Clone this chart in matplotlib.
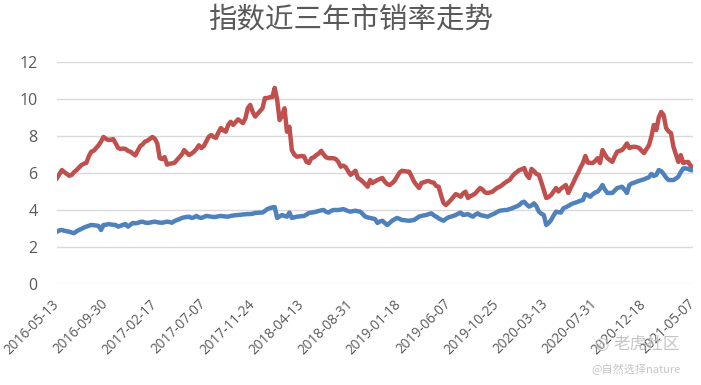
import matplotlib
matplotlib.use("Agg")
import matplotlib.pyplot as plt
import pandas as pd

plt.rcParams['font.family'] = ['Open Sans', 'Noto Sans CJK SC', 'DejaVu Sans']

title = "指数近三年市销率走势"
start_date = "2016-05-13"
n_weeks = 261
tick_step = 20

red_values = [
    5.73, 5.95, 6.16, 6.05, 5.95, 5.85, 5.9, 6.05, 6.16, 6.3,
    6.43, 6.5, 6.55, 6.9, 7.15, 7.2, 7.35, 7.5, 7.7, 7.95,
    7.85, 7.78, 7.8, 7.83, 7.6, 7.35, 7.3, 7.32, 7.3, 7.2,
    7.15, 7.05, 6.95, 7.2, 7.45, 7.55, 7.7, 7.75, 7.85, 7.95,
    7.85, 7.6, 6.8, 6.75, 6.86, 6.45, 6.5, 6.52, 6.55, 6.7,
    6.85, 7.0, 7.24, 7.1, 6.97, 7.05, 7.15, 7.3, 7.5, 7.35,
    7.45, 7.7, 7.95, 8.05, 7.95, 7.9, 8.2, 8.43, 8.3, 8.23,
    8.6, 8.77, 8.6, 8.75, 8.9, 8.8, 8.7, 8.95, 9.5, 9.68,
    9.3, 9.05, 9.2, 9.35, 9.5, 10.05, 10.05, 10.1, 10.1, 10.6,
    9.95, 8.86, 9.1, 9.5, 8.23, 8.5, 7.24, 7.0, 6.88, 6.9,
    6.92, 6.9, 6.6, 6.54, 6.8, 6.85, 6.97, 7.05, 7.2, 7.0,
    6.85, 6.8, 6.8, 6.8, 6.75, 6.6, 6.34, 6.4, 6.32, 6.1,
    5.9, 6.0, 6.12, 5.73, 5.65, 5.53, 5.4, 5.26, 5.62, 5.46,
    5.55, 5.62, 5.68, 5.73, 5.53, 5.4, 5.35, 5.45, 5.58, 5.8,
    6.02, 6.12, 6.1, 6.08, 6.07, 5.8, 5.53, 5.35, 5.19, 5.46,
    5.5, 5.55, 5.57, 5.5, 5.48, 5.3, 5.26, 4.8, 4.38, 4.27,
    4.4, 4.54, 4.7, 4.86, 4.8, 4.72, 4.9, 4.99, 4.65, 4.75,
    4.81, 4.9, 5.05, 5.19, 5.1, 4.95, 4.92, 4.95, 4.99, 5.1,
    5.2, 5.26, 5.35, 5.46, 5.55, 5.62, 5.8, 5.95, 6.05, 6.16,
    6.2, 6.27, 5.9, 5.73, 6.22, 6.1, 5.95, 5.9, 5.5, 5.08,
    4.65, 4.7, 4.81, 5.0, 5.19, 5.0, 5.15, 5.25, 5.35, 4.92,
    5.2, 5.46, 5.75, 6.0, 6.3, 6.54, 6.92, 6.56, 6.55, 6.54,
    6.65, 6.8, 6.54, 7.24, 7.0, 6.8, 6.7, 6.6, 6.9, 7.15,
    7.2, 7.24, 7.4, 7.6, 7.35, 7.4, 7.42, 7.4, 7.35, 7.2,
    7.08, 7.3, 7.5, 7.97, 8.6, 8.32, 9.0, 9.3, 9.13, 8.43,
    8.25, 8.16, 7.42, 7.0, 6.6, 6.97, 6.54, 6.58, 6.6, 6.4,
    6.3,
]

blue_values = [
    2.83, 2.9, 2.92, 2.88, 2.85, 2.83, 2.78, 2.75, 2.85, 2.92,
    2.98, 3.05, 3.1, 3.15, 3.19, 3.18, 3.16, 3.14, 2.92, 3.19,
    3.2, 3.24, 3.22, 3.2, 3.19, 3.1, 3.15, 3.2, 3.24, 3.1,
    3.2, 3.3, 3.28, 3.3, 3.35, 3.37, 3.32, 3.3, 3.32, 3.35,
    3.37, 3.34, 3.32, 3.31, 3.34, 3.37, 3.35, 3.31, 3.4, 3.46,
    3.5, 3.57, 3.6, 3.62, 3.64, 3.57, 3.6, 3.68, 3.6, 3.57,
    3.62, 3.68, 3.66, 3.64, 3.62, 3.63, 3.66, 3.68, 3.66, 3.65,
    3.64, 3.68, 3.7, 3.72, 3.73, 3.74, 3.76, 3.77, 3.78, 3.78,
    3.8, 3.84, 3.85, 3.86, 3.86, 3.95, 4.05, 4.1, 4.14, 4.16,
    3.57, 3.65, 3.73, 3.68, 3.64, 3.86, 3.57, 3.6, 3.64, 3.65,
    3.67, 3.68, 3.75, 3.84, 3.86, 3.88, 3.91, 3.95, 3.98, 4.0,
    3.9, 3.86, 3.95, 4.0, 4.0, 4.0, 4.02, 4.05, 4.0, 3.94,
    3.91, 3.94, 3.96, 3.93, 3.91, 3.78, 3.64, 3.6, 3.57, 3.54,
    3.51, 3.3, 3.38, 3.42, 3.3, 3.19, 3.3, 3.42, 3.5, 3.57,
    3.52, 3.46, 3.45, 3.43, 3.42, 3.44, 3.46, 3.55, 3.64, 3.68,
    3.71, 3.73, 3.78, 3.82, 3.72, 3.64, 3.55, 3.48, 3.42, 3.52,
    3.6, 3.64, 3.68, 3.73, 3.8, 3.86, 3.73, 3.75, 3.78, 3.7,
    3.64, 3.75, 3.82, 3.73, 3.7, 3.67, 3.64, 3.7, 3.76, 3.82,
    3.9, 3.96, 3.98, 4.0, 4.0, 4.05, 4.09, 4.15, 4.2, 4.27,
    4.4, 4.45, 4.3, 4.18, 4.25, 4.36, 4.2, 3.91, 3.8, 3.73,
    3.19, 3.3, 3.46, 3.7, 3.91, 3.88, 3.86, 4.09, 4.15, 4.22,
    4.3, 4.36, 4.4, 4.45, 4.5, 4.54, 4.86, 4.8, 4.72, 4.85,
    4.95, 4.99, 5.15, 5.35, 5.1, 4.92, 4.92, 4.92, 5.05, 5.19,
    5.22, 5.26, 5.1, 4.92, 5.35, 5.44, 5.48, 5.53, 5.58, 5.62,
    5.66, 5.72, 5.77, 5.95, 5.84, 5.9, 6.16, 6.1, 5.95, 5.75,
    5.62, 5.62, 5.62, 5.7, 5.8, 6.05, 6.25, 6.25, 6.22, 6.16,
    6.15,
]

y_ticks = [0, 2, 4, 6, 8, 10, 12]

dates = pd.date_range(start_date, periods=n_weeks, freq="7D")
date_labels = [d.strftime("%Y-%m-%d") for d in dates]
x = list(range(n_weeks))

fig = plt.figure(figsize=(7.01, 3.85), dpi=100)
ax = fig.add_axes([57 / 701, 1 - 284 / 385, (693 - 57) / 701, 222 / 385])

ax.plot(x, red_values, color="#C0504D", lw=3.2, solid_joinstyle="round", zorder=3)
ax.plot(x, blue_values, color="#4F81BD", lw=3.2, solid_joinstyle="round", zorder=3)

ax.set_xlim(0, n_weeks - 1)
ax.set_ylim(0, 12)
ax.set_yticks(y_ticks)
ax.set_yticklabels([str(v) for v in y_ticks])
ax.grid(axis="y", color="#D9D9D9", lw=1.0)
ax.set_axisbelow(True)
for s in ax.spines.values():
    s.set_visible(False)

tick_pos = x[::tick_step]
ax.set_xticks(tick_pos)
ax.set_xticklabels([date_labels[i] for i in tick_pos], rotation=45,
                   ha="right", va="center", rotation_mode="anchor")
ax.tick_params(axis="both", length=0, colors="#595959")
ax.tick_params(axis="x", labelsize=9.8, pad=13)
ax.tick_params(axis="y", labelsize=11.5, pad=14)

fig.text(0.5, 1 - 20 / 385, title, ha="center", va="center", fontsize=20.5,
         color="#595959", family=["Noto Sans CJK SC", "DejaVu Sans"])

# watermark
fig.text(613 / 701, 1 - 344 / 385, "老虎社区", ha="left", va="center", fontsize=12,
         color="#BFBFBF", alpha=0.9, family=["Noto Sans CJK SC", "DejaVu Sans"])
fig.text(601 / 701, 1 - 344 / 385, "◎", ha="center", va="center", fontsize=12,
         color="#BFBFBF", alpha=0.9, family=["DejaVu Sans"])
fig.text(591 / 701, 1 - 369 / 385, "@自然选择nature", ha="left", va="center", fontsize=8,
         color="#BFBFBF", alpha=0.9, family=["Noto Sans CJK SC", "DejaVu Sans"])

fig.savefig("out.png", dpi=100)
